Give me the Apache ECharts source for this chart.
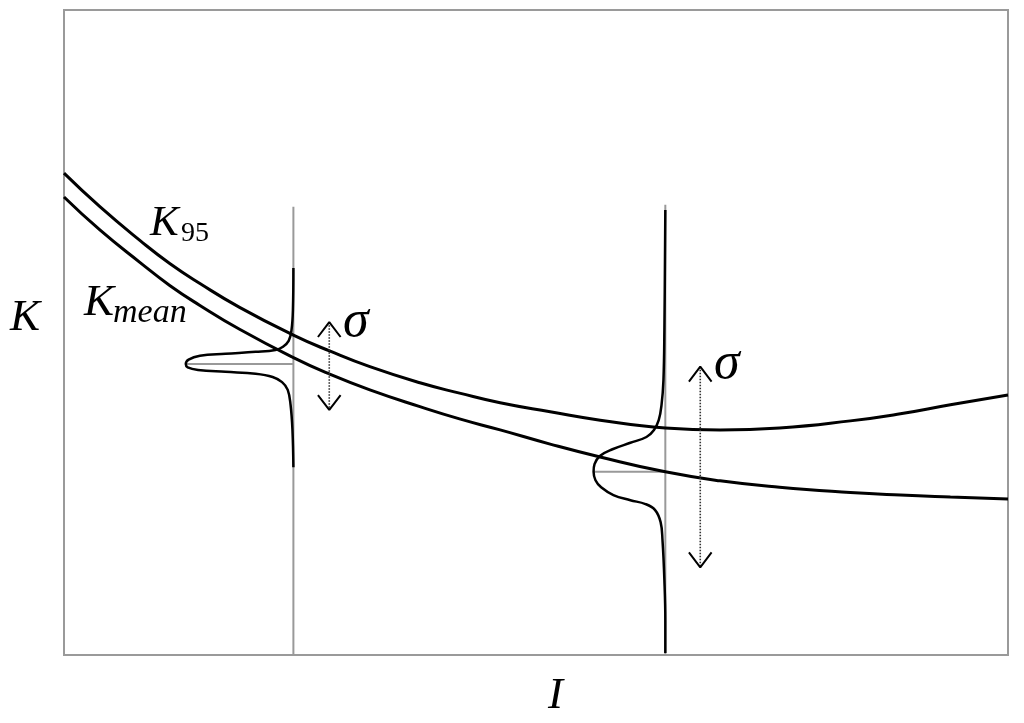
<!DOCTYPE html>
<html><head><meta charset="utf-8">
<script src="https://cdn.jsdelivr.net/npm/echarts@6/dist/echarts.min.js"></script>
<style>html,body{margin:0;background:#fff}#c{width:1024px;height:723px}</style>
</head><body><div id="c"></div>
<script>
// Intensity I positions where curves were read
const iValues = [0,0.38,0.81,1.12,1.44,1.86,2.43,2.82,3.24,3.77,4.19,4.62,5.15,5.68,6.37,6.95,7.58,8.33,8.86,9.39,10];
const k95 =     [7.47,6.95,6.42,6.07,5.76,5.39,4.96,4.71,4.47,4.22,4.06,3.91,3.77,3.64,3.52,3.49,3.52,3.63,3.74,3.88,4.03];
const kMean =   [7.10,6.59,6.08,5.73,5.42,5.05,4.61,4.35,4.11,3.85,3.66,3.49,3.27,3.07,2.84,2.70,2.60,2.52,2.48,2.45,2.42];

// distribution 1 (at I = 2.43): K values and density offsets
const dist1I = 2.43, dist1Mean = 4.51, dist1Top = 6.95;
const dist1K = [6.00,5.35,5.04,4.87,4.78,4.73,4.70,4.67,4.64,4.58,4.51,4.46,4.42,4.39,4.36,4.31,4.23,4.11,3.88,3.49,2.91];
const dist1D = [0,0.005,0.02,0.05,0.11,0.19,0.40,0.72,0.99,1.11,1.14,1.12,1.01,0.72,0.40,0.22,0.12,0.06,0.03,0.01,0];
// distribution 2 (at I = 6.37)
const dist2I = 6.37, dist2Mean = 2.84, dist2Top = 6.98;
const dist2K = [6.90,5.04,4.26,3.88,3.64,3.49,3.38,3.29,3.19,3.09,2.96,2.84,2.71,2.60,2.48,2.40,2.34,2.25,2.06,1.78,1.16,0.54,0.03];
const dist2D = [0,0.01,0.02,0.04,0.07,0.12,0.20,0.37,0.56,0.69,0.75,0.76,0.74,0.68,0.55,0.37,0.21,0.11,0.05,0.03,0.01,0,0];

// sigma arrows: [I, K top, K bottom]
const sigma1 = [2.81, 5.16, 3.80];
const sigma2 = [6.74, 4.47, 1.36];

const SERIF = '"Liberation Serif","DejaVu Serif",serif';
const chart = echarts.init(document.getElementById('c'), null, {renderer:'canvas'});

function lineS(data, color, width, opts) {
  return Object.assign({type:'line', data, symbol:'none', silent:true, clip:false,
    lineStyle:{color, width}, z:2}, opts||{});
}
function distData(I0, ks, ds){ return ks.map((k,i)=>[I0 - ds[i], k]); }
function arrowSeries(s){
  const [I, kt, kb] = s, dw = 0.12, dh = 0.23;
  return [
    lineS([[I,kt],[I,kb]], '#222', 1.6, {lineStyle:{color:'#333', width:1.6, type:[1.5,1.5]}}),
    lineS([[I-dw,kt-dh],[I,kt],[I+dw,kt-dh]], '#000', 2),
    lineS([[I-dw,kb+dh],[I,kb],[I+dw,kb+dh]], '#000', 2)
  ];
}

const series = [
  lineS([[dist1I,0],[dist1I,dist1Top]], '#999', 2, {z:1}),
  lineS([[dist2I,0],[dist2I,dist2Top]], '#999', 2, {z:1}),
  lineS([[dist1I - Math.max(...dist1D), dist1Mean],[dist1I, dist1Mean]], '#999', 2, {z:1}),
  lineS([[dist2I - Math.max(...dist2D), dist2Mean],[dist2I, dist2Mean]], '#999', 2, {z:1}),
  lineS(iValues.map((x,i)=>[x,k95[i]]), '#000', 3, {smooth:0.5}),
  lineS(iValues.map((x,i)=>[x,kMean[i]]), '#000', 3, {smooth:0.5}),
  lineS(distData(dist1I, dist1K, dist1D), '#000', 2.5, {smooth:0.4}),
  lineS(distData(dist2I, dist2K, dist2D), '#000', 2.5, {smooth:0.4}),
  ...arrowSeries(sigma1),
  ...arrowSeries(sigma2)
];

function txt(text, x, y, font){
  return {type:'text', x, y, silent:true,
    style:{text, font, fill:'#000', verticalAlign:'middle', textVerticalAlign:'middle', align:'left'}};
}

chart.setOption({
  animation:false,
  backgroundColor:'#fff',
  grid:{left:64, right:16, top:10, bottom:68, show:true, borderColor:'#9a9a9a', borderWidth:2, backgroundColor:'#fff'},
  xAxis:{type:'value', min:0, max:10, show:false},
  yAxis:{type:'value', min:0, max:10, show:false},
  series,
  graphic:[
    txt('K', 10, 318, 'italic 45px ' + SERIF),
    txt('I', 548, 696, 'italic 45px ' + SERIF),
    txt('K', 150, 224, 'italic 43px ' + SERIF),
    txt('95', 181, 234, '28px ' + SERIF),
    txt('K', 84, 303, 'italic 45px ' + SERIF),
    txt('mean', 113, 313, 'italic 34px ' + SERIF),
    txt('σ', 343, 322, 'italic 52px ' + SERIF),
    txt('σ', 714, 364, 'italic 52px ' + SERIF)
  ]
});
</script></body></html>
